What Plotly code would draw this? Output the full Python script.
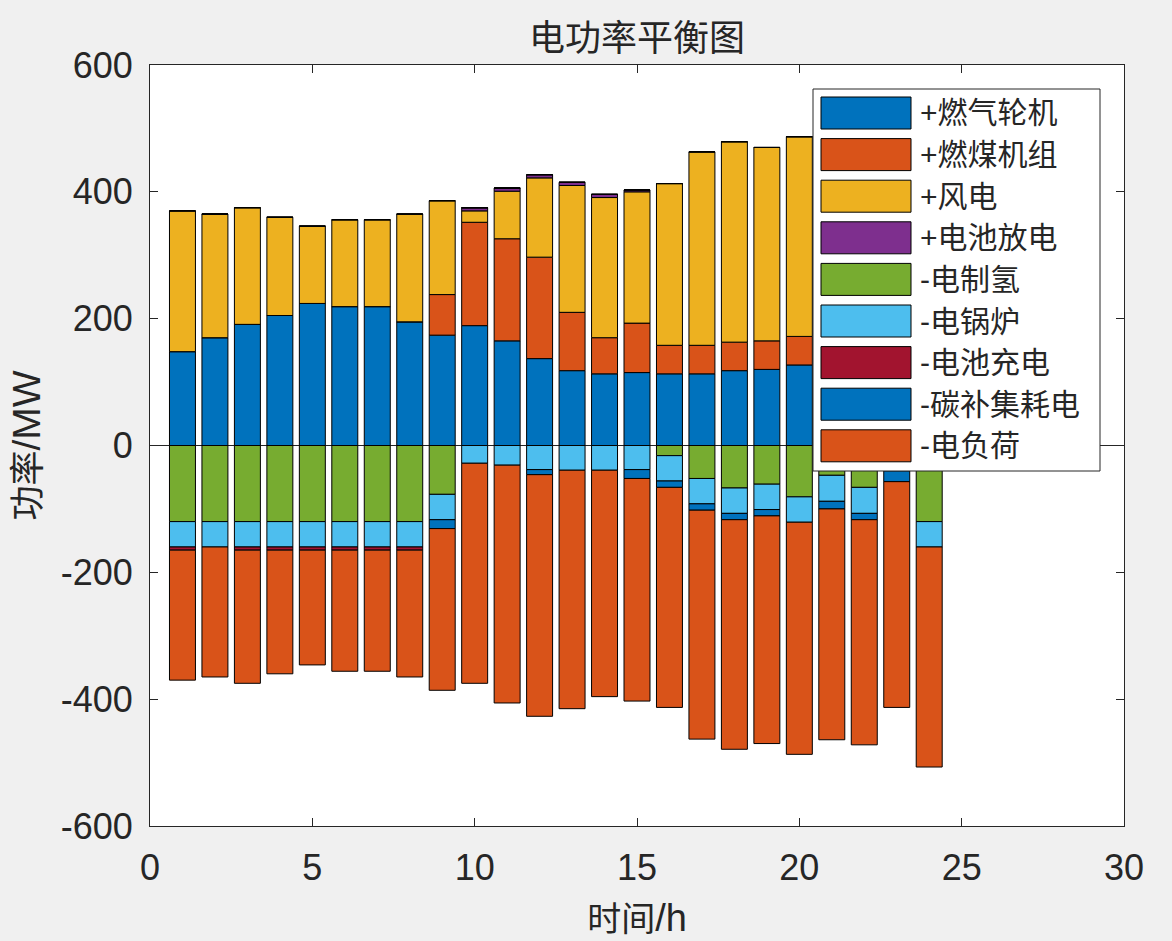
import plotly.graph_objects as go

# hourly power balance (MW)
hours = list(range(1, 25))

gas_turbine = [148, 170, 191, 205, 224, 219, 219, 195, 174, 189, 165, 137,
               118, 113, 115, 113, 113, 118, 120, 127, 125, 120, 115, 130]
coal_unit = [0, 0, 0, 0, 0, 0, 0, 0, 64, 163, 161, 160,
             92, 57, 78, 45, 45, 45, 45, 45, 45, 45, 45, 50]
wind_power = [222, 195, 184, 155, 122, 137, 137, 170, 148, 18, 75, 125,
              200, 221, 207, 255, 305, 316, 305, 315, 294, 307, 253, 327]
battery_discharge = [0, 0, 0, 0, 0, 0, 0, 0, 0, 5, 5, 5,
                     5, 5, 3, 0, 0, 0, 0, 0, 0, 0, 0, 0]
hydrogen = [-120, -120, -120, -120, -120, -120, -120, -120, -77, 0, 0, 0,
            0, 0, 0, -16, -52, -67, -61, -81, -47, -66, 0, -120]
electric_boiler = [-40, -40, -40, -40, -40, -40, -40, -40, -40, -28, -31, -38,
                   -39, -39, -38, -40, -40, -40, -40, -40, -41, -41, -40, -40]
battery_charge = [-5, 0, -5, -5, -5, -5, -5, -5, 0, 0, 0, 0,
                  0, 0, 0, 0, 0, 0, 0, 0, 0, 0, 0, 0]
carbon_capture = [0, 0, 0, 0, 0, 0, 0, 0, -14, 0, 0, -8,
                  0, 0, -14, -10, -10, -10, -10, 0, -12, -10, -17, 0]
electric_load = [-205, -205, -210, -195, -181, -191, -191, -200, -255, -347, -375, -381,
                 -376, -357, -351, -347, -361, -362, -359, -366, -364, -355, -356, -347]

series_names = ['+燃气轮机', '+燃煤机组', '+风电', '+电池放电',
                '-电制氢', '-电锅炉', '-电池充电', '-碳补集耗电', '-电负荷']
series_values = [gas_turbine, coal_unit, wind_power, battery_discharge,
                 hydrogen, electric_boiler, battery_charge, carbon_capture, electric_load]
series_colors = ['#0072BD', '#D95319', '#EDB120', '#7E2F8E',
                 '#77AC30', '#4DBEEE', '#A2142F', '#0072BD', '#D95319']

x_ticks = [0, 5, 10, 15, 20, 25, 30]
y_ticks = [-600, -400, -200, 0, 200, 400, 600]

TEXT = '#262626'
FONT = 'Liberation Sans, Noto Sans CJK SC'
W, H = 1172, 941
L, R, T, B = 150, 48, 65, 115


def px_x(px):
    return (px - L) / (W - L - R)


def px_y(py):
    return (H - B - py) / (H - T - B)


def add_legend_box(fig):
    """MATLAB-style legend with wide swatches, drawn over the bars"""
    fig.add_shape(type='rect', xref='paper', yref='paper',
                  x0=px_x(813), x1=px_x(1100), y0=px_y(471), y1=px_y(89),
                  fillcolor='white', line=dict(color=TEXT, width=1))
    for i, (name, color) in enumerate(zip(series_names, series_colors)):
        top = 97 + 41.6 * i
        fig.add_shape(type='rect', xref='paper', yref='paper',
                      x0=px_x(821), x1=px_x(911), y0=px_y(top + 32), y1=px_y(top),
                      fillcolor=color, line=dict(color='black', width=1))
        fig.add_annotation(xref='paper', yref='paper', x=px_x(918), y=px_y(top + 16),
                           text=name, showarrow=False, xanchor='left', yanchor='middle',
                           font=dict(size=30, color=TEXT, family=FONT))


fig = go.Figure()
for name, values, color in zip(series_names, series_values, series_colors):
    fig.add_trace(go.Bar(
        x=hours, y=values, name=name, width=0.8,
        marker=dict(color=color, line=dict(color='black', width=1)),
    ))

fig.update_layout(
    width=W, height=H,
    barmode='relative',
    showlegend=False,
    paper_bgcolor='#f0f0f0',
    plot_bgcolor='white',
    margin=dict(l=L, r=R, t=T, b=B),
    font=dict(family=FONT, color=TEXT),
    title=dict(text='电功率平衡图', x=0.5, xref='paper', y=1 - 38 / H, yref='container',
               xanchor='center', yanchor='middle', font=dict(size=36, color=TEXT)),
)
fig.update_xaxes(
    range=[0, 30], tickvals=x_ticks, ticktext=[str(v) for v in x_ticks],
    ticks='inside', ticklen=8, tickcolor=TEXT,
    showline=True, linecolor=TEXT, linewidth=1, mirror='ticks',
    showgrid=False, zeroline=False, tickfont=dict(size=36),
    ticklabelstandoff=10, automargin=False,
    title=dict(text='<span style="font-size:34px">时间</span>/h',
               font=dict(size=38), standoff=17),
)
fig.update_yaxes(
    range=[-600, 600], tickvals=y_ticks, ticktext=[str(v) for v in y_ticks],
    ticks='inside', ticklen=8, tickcolor=TEXT,
    showline=True, linecolor=TEXT, linewidth=1, mirror='ticks',
    showgrid=False, zeroline=True, zerolinecolor=TEXT, zerolinewidth=1,
    tickfont=dict(size=36), ticklabelstandoff=9, automargin=False,
    title=dict(text='<span style="font-size:35px">功率</span>/MW',
               font=dict(size=39), standoff=8),
)

add_legend_box(fig)

# drop the default page margin so the figure fills the window like the original
fig.write_html("out.html", config={'displayModeBar': False},
               post_script="document.body.style.margin='0';"
                           "document.body.style.background='#f0f0f0';")
